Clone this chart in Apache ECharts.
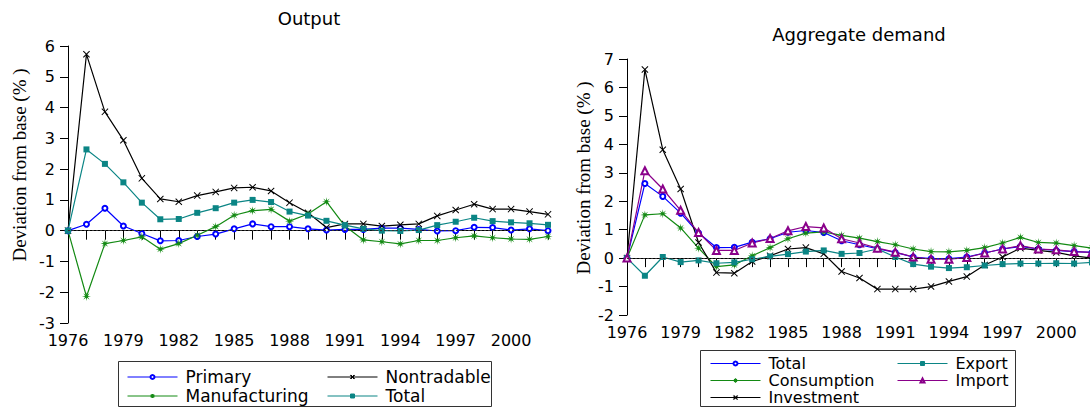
<!DOCTYPE html>
<html>
<head>
<meta charset="utf-8">
<script src="https://cdn.jsdelivr.net/npm/echarts@6/dist/echarts.min.js"></script>
<style>
html,body{margin:0;padding:0;background:#fff;width:1090px;height:410px;overflow:hidden;}
#left{position:absolute;left:0;top:0;width:560px;height:410px;}
#right{position:absolute;left:560px;top:0;width:540px;height:410px;}
</style>
</head>
<body>
<div id="left"></div>
<div id="right"></div>
<script>
const years = ['1976','1977','1978','1979','1980','1981','1982','1983','1984','1985','1986','1987','1988','1989','1990','1991','1992','1993','1994','1995','1996','1997','1998','1999','2000','2001','2002'];

// Output (left panel)
const primary       = [0,0.21,0.73,0.15,-0.09,-0.33,-0.32,-0.19,-0.11,0.06,0.22,0.13,0.13,0.06,0.02,0.04,0.04,0.08,0.08,0.04,-0.01,0.0,0.11,0.10,0.02,0.06,0.0];
const nontradable   = [0,5.73,3.86,2.94,1.70,1.03,0.94,1.14,1.26,1.39,1.41,1.29,0.91,0.58,0.10,0.22,0.22,0.15,0.19,0.22,0.48,0.67,0.86,0.70,0.70,0.62,0.53];
const manufacturing = [0,-2.14,-0.42,-0.32,-0.20,-0.60,-0.42,-0.15,0.13,0.50,0.65,0.69,0.31,0.54,0.94,0.15,-0.30,-0.36,-0.43,-0.32,-0.32,-0.23,-0.17,-0.23,-0.27,-0.28,-0.19];
const outputTotal   = [0,2.64,2.17,1.57,0.91,0.37,0.38,0.58,0.73,0.91,1.00,0.93,0.62,0.49,0.32,0.18,0.06,0.0,-0.01,0.02,0.18,0.29,0.42,0.31,0.27,0.24,0.19];

// Aggregate demand (right panel)
const demandTotal = [0,2.62,2.17,1.58,0.88,0.37,0.38,0.56,0.68,0.91,0.97,0.90,0.61,0.47,0.33,0.20,0.04,-0.02,-0.02,0.04,0.18,0.32,0.41,0.32,0.27,0.23,0.20];
const consumption = [0,1.52,1.56,1.06,0.35,-0.30,-0.24,0.08,0.37,0.68,0.88,0.92,0.80,0.70,0.58,0.47,0.32,0.23,0.22,0.27,0.37,0.53,0.73,0.55,0.53,0.44,0.35];
const investment  = [0,6.63,3.81,2.43,0.55,-0.51,-0.53,-0.12,0.08,0.32,0.37,0.15,-0.47,-0.70,-1.09,-1.09,-1.09,-1.00,-0.82,-0.65,-0.24,0.04,0.35,0.27,0.20,0.08,0.0];
const exports     = [0,-0.62,0.04,-0.14,-0.08,-0.18,-0.15,-0.04,0.06,0.14,0.23,0.27,0.15,0.18,0.32,0.04,-0.21,-0.30,-0.35,-0.32,-0.26,-0.21,-0.19,-0.19,-0.18,-0.19,-0.15];
const imports     = [0,3.07,2.43,1.68,0.90,0.27,0.27,0.53,0.69,0.96,1.11,1.06,0.68,0.53,0.35,0.21,0.04,-0.04,-0.04,0.02,0.18,0.32,0.44,0.32,0.29,0.23,0.20];

const SANS = 'DejaVu Sans';
const SERIF = 'Liberation Serif';
const XSYM = 'path://M0,1 L1,0 L5,4 L9,0 L10,1 L6,5 L10,9 L9,10 L5,6 L1,10 L0,9 L4,5 Z';
const STAR = 'path://M10,5 L6.48,5.61 L8.54,8.54 L5.61,6.48 L5,10 L4.39,6.48 L1.46,8.54 L3.52,5.61 L0,5 L3.52,4.39 L1.46,1.46 L4.39,3.52 L5,0 L5.61,3.52 L8.54,1.46 L6.48,4.39 Z';

const styles = {
  blue:   {color:'#0000ff', symbol:'emptyCircle', size:5},
  black:  {color:'#000000', symbol:XSYM, size:7},
  green:  {color:'#138a13', symbol:STAR, size:9},
  teal:   {color:'#0b8585', symbol:'rect', size:6},
  purple: {color:'#8a008a', symbol:'emptyTriangle', size:7}
};

function mkSeries(name, data, st, withZero) {
  const s = {
    name: name, type: 'line', data: data,
    symbol: st.symbol, symbolSize: st.size, showAllSymbol: true,
    lineStyle: {color: st.color, width: 1.2},
    itemStyle: {color: st.color, borderColor: st.color, borderWidth: st.symbol.indexOf('empty') === 0 ? 1.2 : 0},
    animation: false
  };
  if (withZero) {
    s.markLine = {
      silent: true, symbol: ['none','none'], animation: false,
      label: {show: false},
      lineStyle: {color: '#333', type: [2,2], width: 1},
      data: [{yAxis: 0}]
    };
  }
  return s;
}

function axes(ymin, ymax) {
  return {
    xAxis: {
      type: 'category', data: years, boundaryGap: false,
      axisLine: {lineStyle: {color: '#000', width: 1}},
      axisTick: {show: true, interval: 0, length: 9, lineStyle: {color: '#000'}},
      axisLabel: {interval: 2, color: '#000', fontFamily: SANS, fontSize: 16, margin: 9},
      splitLine: {show: false}
    },
    yAxis: {
      type: 'value', min: ymin, max: ymax, interval: 1,
      axisLine: {show: true, lineStyle: {color: '#000', width: 1}},
      axisTick: {show: true, length: 8, lineStyle: {color: '#000'}},
      axisLabel: {color: '#000', fontFamily: SANS, fontSize: 16, margin: 13},
      splitLine: {show: false}
    }
  };
}

function legend(names, left, top, fs, gap) {
  return {
    data: names, orient: 'vertical', left: left, top: top, padding: 0,
    itemWidth: 50, itemHeight: 5, itemGap: gap,
    selectedMode: false,
    lineStyle: {width: 1},
    itemStyle: {borderWidth: 1},
    textStyle: {color: '#000', fontFamily: SANS, fontSize: fs, padding: [0,0,0,3], lineHeight: fs + 1}
  };
}

function textEl(txt, x, y, size, family, rot) {
  const el = {type: 'text', x: x, y: y, style: {text: txt, x: 0, y: 0, align: 'center', verticalAlign: 'middle', fontSize: size, fontFamily: family, fill: '#000'}};
  if (rot) el.rotation = rot;
  return el;
}

// Left chart
const left = echarts.init(document.getElementById('left'), null, {renderer: 'svg'});
const la = axes(-3, 6);
left.setOption({
  animation: false,
  grid: {left: 68, top: 46, width: 480, height: 277, containLabel: false},
  xAxis: la.xAxis, yAxis: la.yAxis,
  legend: [
    legend(['Primary','Manufacturing'], 127, 368, 17, 1),
    legend(['Nontradable','Total'], 327, 368, 17, 1)
  ],
  graphic: [
    textEl('Output', 309, 18, 18, SANS),
    textEl('Deviation from base (% )', 19, 165, 19, SERIF, Math.PI/2),
    {type:'rect', shape:{x:118.5, y:361.5, width:373, height:45}, style:{fill:'none', stroke:'#333', lineWidth:1}, silent:true}
  ],
  series: [
    mkSeries('Primary', primary, styles.blue, true),
    mkSeries('Nontradable', nontradable, styles.black),
    mkSeries('Manufacturing', manufacturing, styles.green),
    mkSeries('Total', outputTotal, styles.teal)
  ]
});

// Right chart
const right = echarts.init(document.getElementById('right'), null, {renderer: 'svg'});
const ra = axes(-2, 7);
right.setOption({
  animation: false,
  grid: {left: 67, top: 59, width: 465, height: 256, containLabel: false},
  xAxis: ra.xAxis, yAxis: ra.yAxis,
  legend: [
    legend(['Total','Consumption','Investment'], 150, 355, 16, 0),
    legend(['Export','Import'], 337, 355, 16, 0)
  ],
  graphic: [
    textEl('Aggregate demand', 299, 34, 18, SANS),
    textEl('Deviation from base (% )', 23, 178, 19, SERIF, Math.PI/2),
    {type:'rect', shape:{x:140.5, y:350.5, width:315, height:56}, style:{fill:'none', stroke:'#333', lineWidth:1}, silent:true}
  ],
  series: [
    mkSeries('Total', demandTotal, styles.blue, true),
    mkSeries('Consumption', consumption, styles.green),
    mkSeries('Investment', investment, styles.black),
    mkSeries('Export', exports, styles.teal),
    mkSeries('Import', imports, styles.purple)
  ]
});
</script>
</body>
</html>
